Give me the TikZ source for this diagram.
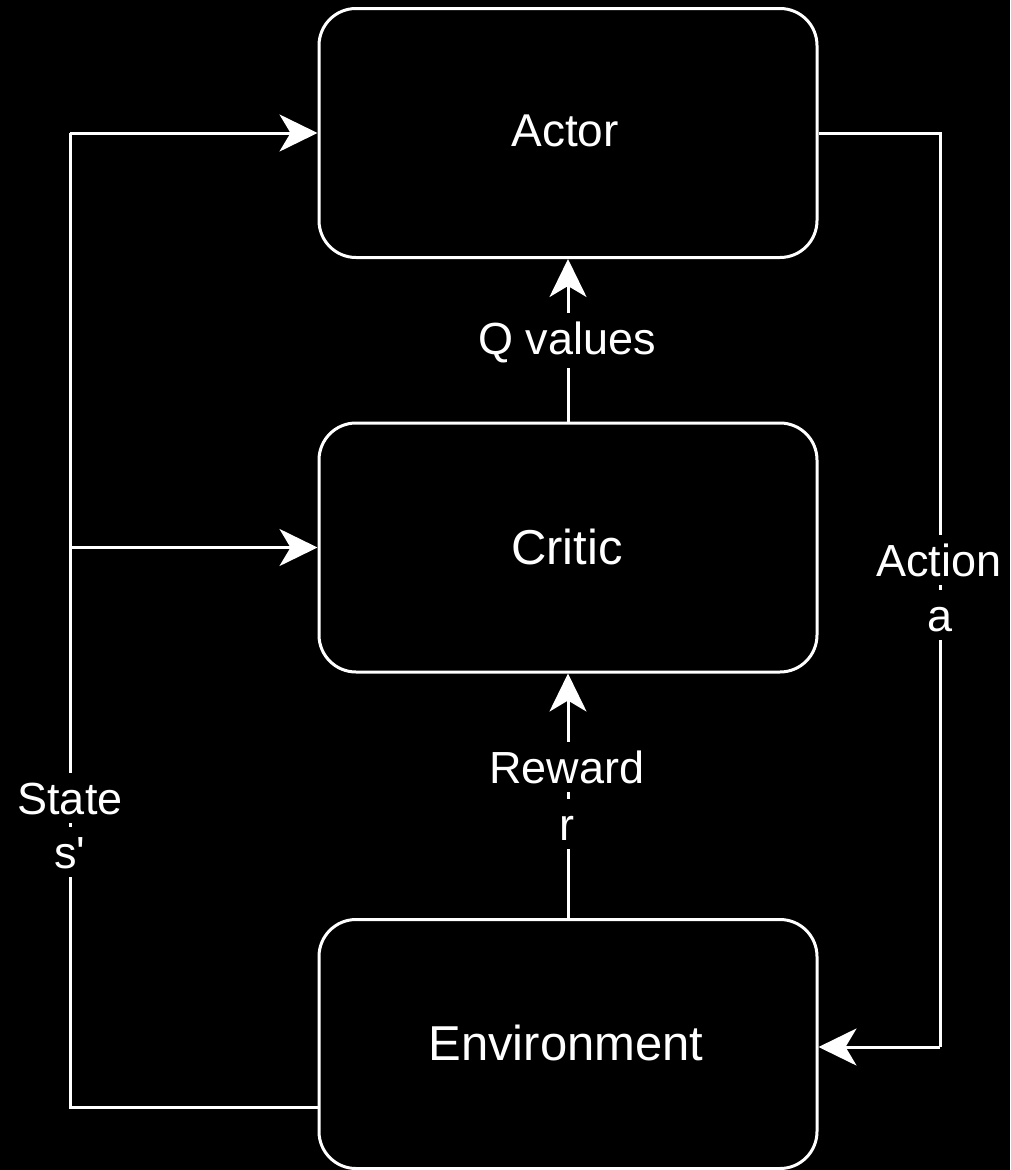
\documentclass[tikz,border=0pt]{standalone}
\usepackage{fontspec}
\setmainfont{Liberation Sans}
\usetikzlibrary{arrows.meta}
\begin{document}
\begin{tikzpicture}[x=1pt,y=-1pt,
  block/.style={draw=white, line width=3pt, rounded corners=37pt,
    minimum width=498pt, minimum height=249pt, inner sep=0pt},
  conn/.style={draw=white, line width=3pt,
    -{Stealth[length=38pt,width=37pt,inset=11pt]}},
  wire/.style={draw=white, line width=3pt},
  lbl/.style={fill=black, text=white, inner xsep=2pt, inner ysep=0pt,
    text height=41pt, text depth=9pt, anchor=base,
    font=\fontsize{45}{54}\selectfont},
  blocktext/.style={text=white, anchor=base}
]
% canvas
\fill[black] (0,0) rectangle (1010,1170);
\useasboundingbox (0,0) rectangle (1010,1170);

% the three blocks
\node[block] (actor) at (568,133) {};
\node[block] (critic) at (568,547.5) {};
\node[block] (env) at (568,1044) {};
\node[blocktext, font=\fontsize{46}{55}\selectfont] (actortxt) at (565,146) {Actor};
\node[blocktext, font=\fontsize{49}{59}\selectfont] (critictxt) at (567,564) {Critic};
\node[blocktext, font=\fontsize{49}{59}\selectfont] (envtxt) at (566,1060) {Environment};

% routing corners
\coordinate (lfoot) at (70,1107);
\coordinate (ltop) at (70,133);
\coordinate (lmid) at (70,547.5);
\coordinate (rtop) at (940,133);
\coordinate (rbot) at (940,1047);

% state feedback on the left
\draw[wire] (env.west |- lfoot) -- (lfoot) -- (ltop);
\draw[conn] (ltop) -- (actor.west);
\draw[conn] (lmid) -- (critic.west);

% action on the right
\draw[wire] (actor.east) -- (rtop) -- (rbot);
\draw[conn] (rbot) -- (env.east |- rbot);

% vertical links
\draw[conn] (critic.north) -- (actor.south);
\draw[conn] (env.north) -- (critic.south);

% labels on the connectors
\node[lbl, text depth=14pt] (qv) at (567,354) {Q values};
\node[lbl] (rw1) at (567,783) {Reward};
\node[lbl] (rw2) at (567,840) {r};
\node[lbl] (st1) at (70,814) {State};
\node[lbl] (st2) at (70,868) {s\textquotesingle};
\node[lbl] (ac1) at (939,576) {Action};
\node[lbl] (ac2) at (940,631) {a};
\end{tikzpicture}
\end{document}
